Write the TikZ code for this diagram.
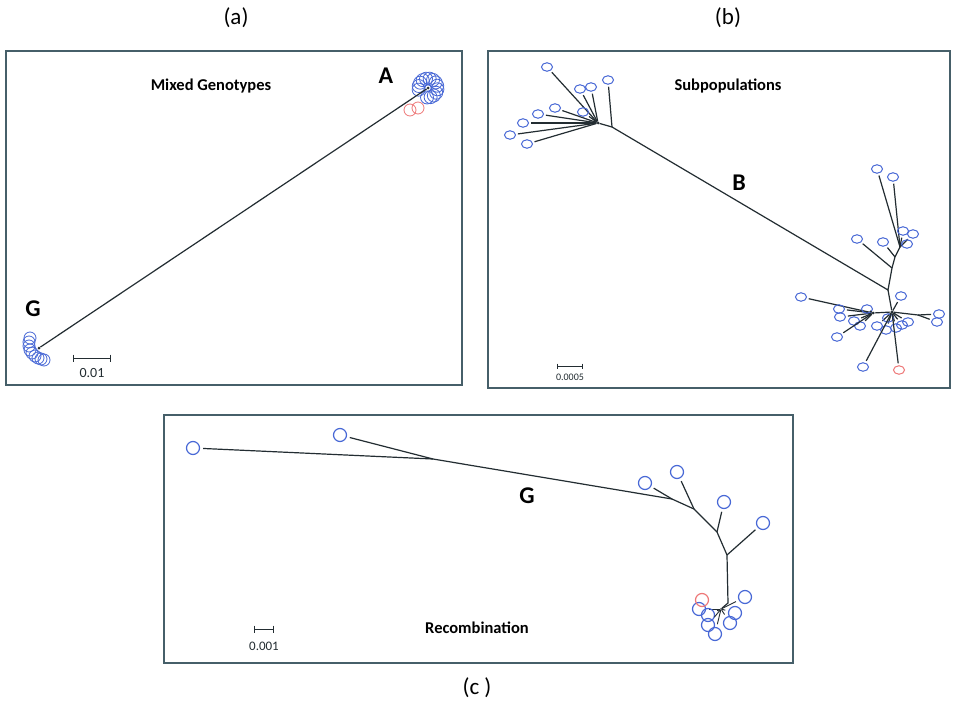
\documentclass[tikz,border=0pt]{standalone}
\usepackage{fontspec}
\setmainfont{Carlito}
\usetikzlibrary{calc,shapes.geometric}
\definecolor{lblue}{RGB}{72,104,214}
\definecolor{lred}{RGB}{238,120,120}
\definecolor{brch}{RGB}{35,45,50}
\definecolor{frm}{RGB}{70,95,105}
\begin{document}
\begin{tikzpicture}[x=1pt,y=-1pt,
  panel/.style={draw=frm,line width=1.6pt},
  br/.style={draw=brch,line width=1.2pt},
  brs/.style={br,shorten >=2pt},
  ringc/.style={circle,draw=lblue,line width=0.8pt,minimum size=13pt,inner sep=0pt},
  ringr/.style={ringc,draw=lred,minimum size=12pt},
  gc/.style={circle,draw=lblue,line width=0.8pt,minimum size=12pt,inner sep=0pt},
  bleaf/.style={ellipse,draw=lblue,line width=1pt,minimum width=11pt,minimum height=8.5pt,inner sep=0pt},
  bred/.style={bleaf,draw=lred},
  cleaf/.style={circle,draw=lblue,line width=1.2pt,minimum size=13pt,inner sep=0pt},
  cred/.style={cleaf,draw=lred},
  dot/.style={circle,fill=brch,minimum size=3pt,inner sep=0pt},
  pt/.style={inner sep=0pt,minimum size=0pt},
  plabel/.style={font=\fontsize{23}{26}\selectfont},
  ttl/.style={font=\bfseries\fontsize{16.5}{19}\selectfont},
  big/.style={font=\bfseries\fontsize{24}{28}\selectfont},
  sbar/.style={draw=brch,line width=1pt},
  slab/.style={font=\fontsize{14}{16}\selectfont,text=brch}
]
\useasboundingbox (0,0) rectangle (954,704);
\fill[white] (0,0) rectangle (954,704);
% panel frames
\draw[panel] (6,51) rectangle (462,385);
\draw[panel] (488,51) rectangle (950,388);
\draw[panel] (164,415) rectangle (793,663);
% panel labels
\node[plabel] (la) at (236,18) {(a)};
\node[plabel] (lb) at (728,18) {(b)};
\node[plabel] (lc) at (477,688) {(c )};

% ---------------- panel (a)
\node[ttl] (ta) at (211,86) {Mixed Genotypes};
\node[big] (tA) at (386,76) {A};
\node[big] (tG) at (33,309) {G};
\coordinate (ac) at (428,88);
\foreach \a in {170,192,214,236,258,280,302,324,346,8,30,52,74,96}
  \node[ringc] (r\a) at ($(ac)+(\a:9.5)$) {};
\node[ringr] (ra1) at (410,110) {};
\node[ringr] (ra2) at (418,108) {};
\foreach \i/\x/\y in {1/30/338,2/29/342,3/29/346,4/30/350,5/32/353,6/35/356,7/38/358,8/41/359,9/44/360}
  \node[gc] (g\i) at (\x,\y) {};
\node[dot] (ha) at (ac) {};
\node[dot] (hg) at (39,348) {};
\draw[br] (hg) -- (ha);
\node[pt] (sa1) at (73,358) {};
\node[pt] (sa2) at (110,358) {};
\draw[sbar] (sa1) -- (sa2);
\draw[sbar] ($(sa1)+(0,-3.5)$) -- ($(sa1)+(0,3.5)$);
\draw[sbar] ($(sa2)+(0,-3.5)$) -- ($(sa2)+(0,3.5)$);
\node[slab] (sla) at (92,373) {0.01};

% ---------------- panel (b)
\node[ttl] (tb) at (728,86) {Subpopulations};
\node[big] (tB) at (739,183) {B};
\node[dot] (bh1) at (598,123) {};
\coordinate (bn2) at (612,127);
\foreach \i/\x/\y in {1/547/67,2/580/89,3/591/87,4/555/108,5/538/114,6/523/123,7/510/135,8/527/144,9/583/112}
  {\node[bleaf] (bl\i) at (\x,\y) {};
   \draw[brs] (bh1) -- (bl\i);}
\node[bleaf] (bl10) at (608,80) {};
\draw[brs] (bn2) -- (bl10);
\draw[br] (bh1) -- (bn2);
\coordinate (bj1) at (888,290);
\coordinate (bj2) at (892,268);
\coordinate (bj3) at (895,257);
\coordinate (bj4) at (900,247);
\draw[br] (bn2) -- (bj1) -- (bj2) -- (bj3) -- (bj4);
\foreach \i/\x/\y in {11/877/169,12/893/177,13/903/231,14/913/234,15/907/244}
  {\node[bleaf] (bl\i) at (\x,\y) {};
   \draw[brs] (bj4) -- (bl\i);}
\node[bleaf] (bl16) at (857,239) {};
\draw[brs] (bj2) -- (bl16);
\node[bleaf] (bl17) at (883,242) {};
\draw[brs] (bj3) -- (bl17);
\node[dot] (bh2) at (892,312) {};
\node[dot] (bhl) at (873,313) {};
\coordinate (bhr) at (918,315);
\draw[br] (bj1) -- (bh2);
\draw[br] (bhl) -- (bh2) -- (bhr);
\foreach \i/\x/\y in {18/801/297,19/839/309,20/840/317,21/867/309,22/854/321,23/860/326,24/837/337}
  {\node[bleaf] (bl\i) at (\x,\y) {};
   \draw[brs] (bhl) -- (bl\i);}
\foreach \i/\x/\y in {25/939/314,26/937/322}
  {\node[bleaf] (bl\i) at (\x,\y) {};
   \draw[brs] (bhr) -- (bl\i);}
\foreach \i/\x/\y in {27/901/296,28/877/326,29/886/330,30/896/328,31/902/325,32/908/322,33/888/318,34/863/367}
  {\node[bleaf] (bl\i) at (\x,\y) {};
   \draw[brs] (bh2) -- (bl\i);}
\node[bred] (blr) at (899,370) {};
\draw[brs] (bh2) -- (blr);
\node[pt] (sb1) at (557,366) {};
\node[pt] (sb2) at (582,366) {};
\draw[sbar,line width=0.8pt] (sb1) -- (sb2);
\draw[sbar,line width=0.8pt] ($(sb1)+(0,-2.5)$) -- ($(sb1)+(0,2.5)$);
\draw[sbar,line width=0.8pt] ($(sb2)+(0,-2.5)$) -- ($(sb2)+(0,2.5)$);
\node[slab,font=\fontsize{10}{12}\selectfont] (slb) at (570,377) {0.0005};

% ---------------- panel (c)
\node[ttl] (tc) at (477,628) {Recombination};
\node[big] (tG2) at (527,496) {G};
\node[cleaf] (cl1) at (193,448) {};
\node[cleaf] (cl2) at (340,435) {};
\coordinate (cj1) at (433,459);
\coordinate (cj2) at (672,499);
\coordinate (cj3) at (694,509);
\coordinate (cj4) at (717,532);
\coordinate (cj5) at (727,555);
\coordinate (cj6) at (728,603);
\node[dot,minimum size=2pt] (ch) at (721,609) {};
\draw[br,shorten <=3pt] (cl1) -- (cj1) -- (cj2) -- (cj3) -- (cj4) -- (cj5) -- (cj6) -- (ch);
\draw[br,shorten <=3pt] (cl2) -- (cj1);
\node[cleaf] (cl3) at (645,483) {};
\draw[br,shorten <=3pt] (cl3) -- (cj2);
\node[cleaf] (cl4) at (677,472) {};
\draw[br,shorten <=3pt] (cl4) -- (cj3);
\node[cleaf] (cl5) at (724,502) {};
\draw[br,shorten <=3pt] (cl5) -- (cj4);
\node[cleaf] (cl6) at (763,523) {};
\draw[br,shorten <=3pt] (cl6) -- (cj5);
\foreach \i/\x/\y in {7/699/609,8/708/615,9/708/625,10/715/634,11/735/613,12/730/623,13/745/597}
  {\node[cleaf] (cl\i) at (\x,\y) {};
   \draw[br,line width=0.9pt,shorten >=3pt] (ch) -- (cl\i);}
\node[cred] (clr) at (702,600) {};
\node[pt] (sc1) at (254,629) {};
\node[pt] (sc2) at (273,629) {};
\draw[sbar] (sc1) -- (sc2);
\draw[sbar] ($(sc1)+(0,-3.5)$) -- ($(sc1)+(0,3.5)$);
\draw[sbar] ($(sc2)+(0,-3.5)$) -- ($(sc2)+(0,3.5)$);
\node[slab,font=\fontsize{13}{15}\selectfont] (slc) at (264,646) {0.001};
\end{tikzpicture}
\end{document}
